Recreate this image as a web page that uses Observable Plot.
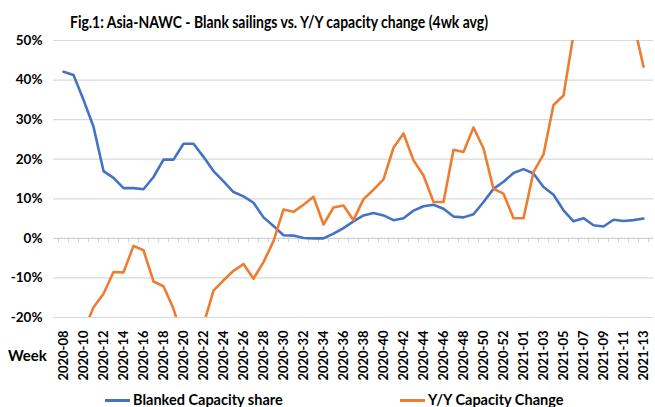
<!DOCTYPE html>
<html>
<head>
<meta charset="utf-8">
<script src="https://cdn.jsdelivr.net/npm/d3@7"></script>
<script src="https://cdn.jsdelivr.net/npm/@observablehq/plot@0.6"></script>
<style>
  html, body { margin: 0; padding: 0; background: #fff; }
  body { width: 655px; height: 407px; position: relative; overflow: hidden; font-family: Lato, "Liberation Sans", sans-serif; font-weight: bold; color: #000; }
  #title { position: absolute; left: 70px; top: 11px; font-size: 17px; line-height: 22px; white-space: nowrap; transform-origin: 0 50%; }
  #chart { position: absolute; left: 0; top: 32px; }
  #week { position: absolute; left: 8px; top: 345px; font-size: 15px; line-height: 20px; }
  .leg { position: absolute; top: 391px; font-size: 14.5px; line-height: 18px; white-space: nowrap; display: flex; align-items: center; }
  .sw { display: inline-block; width: 25px; height: 3px; margin-right: 3px; }
  svg text { font-weight: bold; }
</style>
</head>
<body>
<div id="title">Fig.1: Asia-NAWC - Blank sailings vs. Y/Y capacity change (4wk avg)</div>
<div id="chart"></div>
<div id="week">Week</div>
<div class="leg" style="left:105px"><span class="sw" style="background:#4472C4"></span>Blanked Capacity share</div>
<div class="leg" style="left:400px"><span class="sw" style="background:#ED7D31"></span>Y/Y Capacity Change</div>
<script>
const weeks = [
  "2020-08","2020-09","2020-10","2020-11","2020-12","2020-13","2020-14","2020-15","2020-16","2020-17",
  "2020-18","2020-19","2020-20","2020-21","2020-22","2020-23","2020-24","2020-25","2020-26","2020-27",
  "2020-28","2020-29","2020-30","2020-31","2020-32","2020-33","2020-34","2020-35","2020-36","2020-37",
  "2020-38","2020-39","2020-40","2020-41","2020-42","2020-43","2020-44","2020-45","2020-46","2020-47",
  "2020-48","2020-49","2020-50","2020-51","2020-52","2020-53","2021-01","2021-02","2021-03","2021-04",
  "2021-05","2021-06","2021-07","2021-08","2021-09","2021-10","2021-11","2021-12","2021-13"
];
const labeledWeeks = [
  "2020-08","2020-10","2020-12","2020-14","2020-16","2020-18","2020-20","2020-22","2020-24","2020-26",
  "2020-28","2020-30","2020-32","2020-34","2020-36","2020-38","2020-40","2020-42","2020-44","2020-46",
  "2020-48","2020-50","2020-52","2021-01","2021-03","2021-05","2021-07","2021-09","2021-11","2021-13"
];
const blankedShare = [
  42.1, 41.3, 35.0, 28.2, 17.0, 15.3, 12.7, 12.7, 12.4, 15.5,
  19.9, 19.9, 23.9, 23.9, 20.6, 17.0, 14.4, 11.7, 10.6, 9.0,
  5.3, 3.1, 0.8, 0.7, 0.1, 0.0, 0.0, 1.2, 2.6, 4.3,
  5.8, 6.4, 5.8, 4.6, 5.1, 7.0, 8.1, 8.5, 7.5, 5.5,
  5.3, 6.1, 9.2, 12.5, 14.3, 16.5, 17.5, 16.4, 13.0, 11.0,
  7.1, 4.3, 5.1, 3.3, 3.0, 4.7, 4.4, 4.6, 5.0
];
const yyCapacity = [
  -30.0, -27.0, -23.6, -17.4, -14.0, -8.5, -8.6, -1.9, -3.0, -10.9,
  -12.1, -17.8, -26.0, -25.0, -21.8, -13.2, -10.6, -8.2, -6.5, -10.2,
  -6.0, -0.7, 7.3, 6.7, 8.5, 10.5, 3.5, 7.8, 8.3, 4.6,
  9.9, 12.3, 14.9, 22.9, 26.5, 19.7, 15.9, 9.2, 9.2, 22.4,
  21.8, 28.0, 22.7, 12.5, 11.3, 5.1, 5.1, 16.8, 21.2, 33.7,
  36.1, 51.5, 62.0, 70.0, 72.0, 66.0, 60.0, 54.6, 43.4
];
const yTicks = [-20, -10, 0, 10, 20, 30, 40, 50];

const blueRows = weeks.map((w, i) => ({week: w, value: blankedShare[i]}));
const orangeRows = weeks.map((w, i) => ({week: w, value: yyCapacity[i]}));

const W = 655, H = 362, ML = 53, MR = 2;
const step = (W - ML - MR) / weeks.length;

const chart = Plot.plot({
  width: W, height: H,
  marginLeft: ML, marginRight: MR, marginTop: 8, marginBottom: 77,
  style: {fontFamily: "Lato, 'Liberation Sans', sans-serif", background: "#fff", color: "#000"},
  x: {type: "point", domain: weeks, padding: 0.5},
  y: {domain: [-20, 50]},
  marks: [
    Plot.gridY(yTicks.filter(d => d !== 0), {stroke: "#d9d9d9", strokeOpacity: 1, strokeWidth: 1.2}),
    Plot.ruleY([0], {stroke: "#d0d0d0", strokeWidth: 1.2}),
    Plot.ruleX(weeks, {x: d => d, y1: 0, y2: -1.1, dx: -step / 2, stroke: "#d0d0d0", strokeWidth: 1}),
    Plot.ruleX([weeks[weeks.length - 1]], {x: d => d, y1: 0, y2: -1.1, dx: step / 2, stroke: "#d0d0d0", strokeWidth: 1}),
    Plot.axisY({ticks: yTicks, tickFormat: d => d + "%", tickSize: 0, tickPadding: 11, fontSize: 13.5, label: null}),
    Plot.axisX({ticks: labeledWeeks, tickRotate: -90, tickSize: 0, tickPadding: 13, fontSize: 13, label: null}),
    Plot.line(blueRows, {x: "week", y: "value", stroke: "#4472C4", strokeWidth: 2.6, clip: true}),
    Plot.line(orangeRows, {x: "week", y: "value", stroke: "#ED7D31", strokeWidth: 2.6, clip: true})
  ]
});
document.getElementById("chart").appendChild(chart);

// fit title to reference width
const t = document.getElementById("title");
const tw = t.getBoundingClientRect().width;
if (tw > 0) t.style.transform = `scaleX(${418 / tw})`;
</script>
</body>
</html>
